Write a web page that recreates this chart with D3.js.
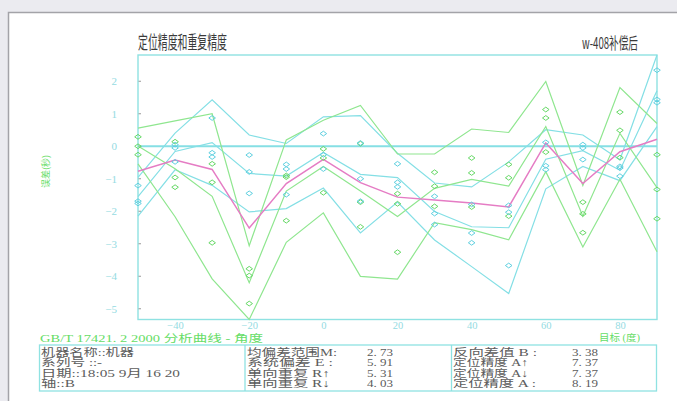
<!DOCTYPE html>
<html><head><meta charset="utf-8">
<script src="https://cdn.jsdelivr.net/npm/d3@7"></script>
<style>
html,body{margin:0;padding:0;background:#ebebf0;}
svg{display:block;}
</style></head><body>
<svg id="chart" width="677" height="401"></svg>
<script>
// Target positions (degrees)
const targets = [-50, -40, -30, -20, -10, 0, 10, 20, 30, 40, 50, 60, 70, 80, 90];

// Measured deviations, three runs approaching from each direction
const cyanRun1 = [-1.21, 0.05, 0.87, -0.27, -0.56, 0.39, 0.10, -0.54, -1.54, -1.79, -1.82, 0.12, 0.05, -0.62, 2.34];
const cyanRun2 = [-1.69, -0.05, -0.20, -0.79, -0.70, -0.26, -1.00, -1.11, -2.07, -2.67, -2.03, -0.60, -0.05, -0.67, 1.44];
const cyanRun3 = [-1.76, -0.48, -0.33, -1.45, -1.49, -0.70, -1.69, -1.25, -2.41, -2.97, -3.67, -0.72, -0.41, -0.92, 1.34];
const greenRun1 = [0.29, 0.14, -0.54, -3.77, -0.90, -0.08, 0.08, -1.46, -0.80, -0.36, -0.56, 1.13, -1.72, 1.05, -0.26];
const greenRun2 = [0.00, -0.96, -1.11, -3.98, -0.95, -0.36, -1.72, -1.77, -1.23, -0.82, -0.97, 0.87, -2.08, 0.49, -1.33];
const greenRun3 = [-0.26, -1.26, -2.97, -4.84, -2.29, -1.43, -2.48, -3.26, -1.85, -1.87, -2.15, -0.18, -2.66, -0.35, -2.23];

const xTicks = [-40, -20, 0, 20, 40, 60, 80];
const yTicks = [-5, -4, -3, -2, -1, 0, 1, 2];

const infoLabels = ["机器名称::机器", "系列号  ::-", "日期::18:05 9月 16 20", "轴::B"];
const statLabelsA = ["均偏差范围M:", "系统偏差 E :", "单向重复 R↑", "单向重复 R↓"];
const statValuesA = ["2. 73", "5. 91", "5. 31", "4. 03"];
const statLabelsB = ["反向差值 B :", "定位精度 A↑", "定位精度 A↓", "定位精度 A :"];
const statValuesB = ["3. 38", "7. 37", "7. 37", "8. 19"];

const CYAN = "#84dfe5", GREEN = "#8fe68f", PINK = "#e57cc4";
const CYAN_PT = "#5fd0e0", GREEN_PT = "#66d866";
const FRAME = "#8fe2e2";

const svg = d3.select("#chart");

// white page panel
svg.append("rect").attr("x", 8.5).attr("y", 12.5).attr("width", 680).attr("height", 400)
  .attr("fill", "#fff").attr("stroke", "#a3a3a8").attr("stroke-width", 1.5);

const L = 138, R = 657, T = 55, B = 319.5;

// per-target statistics for each direction
function stats(runs) {
  return targets.map((t, i) => {
    const vals = runs.map(r => r[i]);
    const m = d3.mean(vals), s = d3.deviation(vals);
    return { t, m, hi: m + 2 * s, lo: m - 2 * s };
  });
}
const cyanStats = stats([cyanRun1, cyanRun2, cyanRun3]);
const greenStats = stats([greenRun1, greenRun2, greenRun3]);
const meanAll = targets.map((t, i) => ({ t, v: (cyanStats[i].m + greenStats[i].m) / 2 }));

const yMin = d3.min([...cyanStats, ...greenStats], d => d.lo);
const yMax = d3.max([...cyanStats, ...greenStats], d => d.hi);

const x = d3.scaleLinear().domain([d3.min(targets), d3.max(targets)]).range([L, R]);
const y = d3.scaleLinear().domain([yMin, yMax]).range([B, T]);

// frame
svg.append("rect").attr("x", L).attr("y", T).attr("width", R - L).attr("height", B - T)
  .attr("fill", "none").attr("stroke", FRAME).attr("stroke-width", 1.4);

// zero reference line
svg.append("line").attr("x1", L).attr("x2", R).attr("y1", y(0)).attr("y2", y(0))
  .attr("stroke", "#86dfe4").attr("stroke-width", 2);

// axes
const yAxis = d3.axisLeft(y).tickValues(yTicks).tickSize(0).tickPadding(21).tickFormat(d3.format("d"));
const gy = svg.append("g").attr("transform", `translate(${L},0)`).call(yAxis);
gy.select(".domain").remove();
gy.selectAll("text").attr("fill", "#94dbe2").attr("font-family", "Liberation Serif, serif").attr("font-size", 11);

const xAxis = d3.axisBottom(x).tickValues(xTicks).tickSize(0).tickPadding(2).tickFormat(d3.format("d"));
const gx = svg.append("g").attr("transform", `translate(0,${B})`).call(xAxis);
gx.select(".domain").remove();
gx.selectAll("text").attr("fill", "#94dbe2").attr("font-family", "Liberation Serif, serif").attr("font-size", 10.5);

// little tick marks inside the frame
svg.append("g").selectAll("line").data(yTicks).join("line")
  .attr("x1", L + 0.5).attr("x2", L + 3).attr("y1", d => y(d)).attr("y2", d => y(d))
  .attr("stroke", "#999").attr("stroke-width", 1);

// statistic lines
const line = d3.line().x(d => x(d.t)).y(d => y(d.v));
function drawLine(data, color, w) {
  svg.append("path").datum(data).attr("d", line).attr("fill", "none")
    .attr("stroke", color).attr("stroke-width", w).attr("stroke-linejoin", "miter");
}
["hi", "m", "lo"].forEach(k => {
  drawLine(cyanStats.map(d => ({ t: d.t, v: d[k] })), CYAN, 1.2);
});
["hi", "m", "lo"].forEach(k => {
  drawLine(greenStats.map(d => ({ t: d.t, v: d[k] })), GREEN, 1.2);
});
drawLine(meanAll, PINK, 1.5);

// individual measured points as open diamonds
const diamond = "M0,-2.4L3.3,0L0,2.4L-3.3,0Z";
function drawRun(run, color) {
  svg.append("g").selectAll("path").data(run).join("path")
    .attr("d", diamond)
    .attr("transform", (v, i) => `translate(${x(targets[i])},${y(v)})`)
    .attr("fill", "none").attr("stroke", color).attr("stroke-width", 1);
}
[greenRun1, greenRun2, greenRun3].forEach(r => drawRun(r, GREEN_PT));
[cyanRun1, cyanRun2, cyanRun3].forEach(r => drawRun(r, CYAN_PT));

// titles
svg.append("text").attr("x", 138).attr("y", 48.5).text("定位精度和重复精度")
  .attr("font-family", "Noto Sans CJK SC, sans-serif").attr("font-size", 18).attr("fill", "#3a3a3a")
  .attr("textLength", 89).attr("lengthAdjust", "spacingAndGlyphs");
svg.append("text").attr("x", 582).attr("y", 48.5).text("w-408补偿后")
  .attr("font-family", "Noto Sans CJK SC, sans-serif").attr("font-size", 16).attr("fill", "#3a3a3a")
  .attr("textLength", 56).attr("lengthAdjust", "spacingAndGlyphs");

// axis captions
svg.append("text").attr("transform", "translate(49,188) rotate(-90)").text("误差(秒)")
  .attr("font-family", "Noto Sans CJK SC, sans-serif").attr("font-size", 9).attr("fill", "#66dd66")
  .attr("textLength", 33).attr("lengthAdjust", "spacingAndGlyphs");
svg.append("text").attr("x", 599).attr("y", 341).text("目标 (度)")
  .attr("font-family", "Liberation Serif, Noto Sans CJK SC, serif").attr("font-size", 9.5).attr("fill", "#66dd66")
  .attr("textLength", 41).attr("lengthAdjust", "spacingAndGlyphs");
svg.append("text").attr("x", 40).attr("y", 341.5).text("GB/T 17421. 2 2000  分析曲线 - 角度")
  .attr("font-family", "Liberation Serif, Noto Sans CJK SC, serif").attr("font-size", 10.5).attr("fill", "#66dd66")
  .attr("textLength", 223).attr("lengthAdjust", "spacingAndGlyphs");

// information table
const tT = 345, tB = 391, tL = 39.5, tR = 656.5, d1 = 245, d2 = 451.5;
svg.append("rect").attr("x", tL).attr("y", tT).attr("width", tR - tL).attr("height", tB - tT)
  .attr("fill", "none").attr("stroke", FRAME).attr("stroke-width", 1.3);
[d1, d2].forEach(xx => svg.append("line").attr("x1", xx).attr("x2", xx).attr("y1", tT).attr("y2", tB)
  .attr("stroke", FRAME).attr("stroke-width", 1.3));

const rowY = [355.5, 366, 376.5, 387];
const tableFont = "Liberation Serif, Noto Sans CJK SC, serif";
function tableCol(texts, x0, widths) {
  svg.append("g").selectAll("text").data(texts).join("text")
    .attr("x", x0).attr("y", (d, i) => rowY[i]).text(d => d)
    .attr("font-family", tableFont).attr("font-size", 10.5).attr("fill", "#5c5c5c")
    .attr("textLength", (d, i) => widths[i]).attr("lengthAdjust", "spacingAndGlyphs");
}
tableCol(infoLabels, 41, [93, 61, 139, 34]);
tableCol(statLabelsA, 247, [90, 86, 83, 83]);
tableCol(statValuesA, 367, [26, 26, 26, 26]);
tableCol(statLabelsB, 453, [84, 75, 75, 83]);
tableCol(statValuesB, 572, [26, 26, 26, 26]);
</script>
</body></html>
